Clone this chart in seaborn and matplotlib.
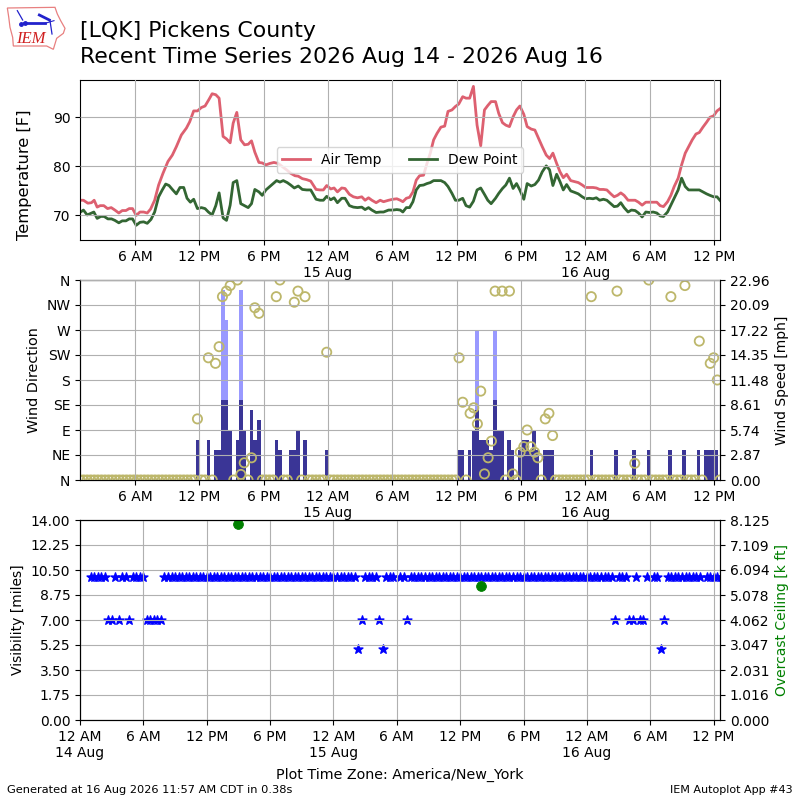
import numpy as np
import pandas as pd
import seaborn as sns
import matplotlib
matplotlib.use("Agg")
import matplotlib.pyplot as plt
import matplotlib.dates as mdates
from matplotlib.patches import Polygon
from matplotlib.ticker import FuncFormatter

# air temperature and dew point [F], hours counted from 14 Aug 00:00
air_hours = [
    0.86, 1.20, 1.61, 1.95, 2.20, 2.48, 2.76, 3.10, 3.45, 3.79, 4.13, 4.50, 4.82, 5.16, 5.47,
    5.78, 6.12, 6.47, 6.81, 7.15, 7.46, 7.84, 8.21, 8.62, 9.08, 9.49, 9.86, 10.33, 10.80, 11.11,
    11.48, 11.83, 12.20, 12.54, 12.92, 13.20, 13.54, 13.85, 14.22, 14.54, 14.88, 15.16, 15.50, 15.87, 16.22,
    16.56, 16.87, 17.18, 17.56, 17.87, 18.21, 18.58, 18.96, 19.36, 19.77, 20.14, 20.52, 20.92, 21.23, 21.61,
    22.01, 22.39, 22.89, 23.26, 23.57, 23.88, 24.26, 24.57, 24.88, 25.28, 25.59, 26.00, 26.37, 26.75, 27.15,
    27.46, 27.78, 28.09, 28.49, 28.87, 29.18, 29.65, 30.05, 30.42, 30.73,
    30.74, 30.98, 31.30, 31.61, 31.92, 32.23, 32.54, 32.91, 33.23, 33.54, 33.85, 34.16, 34.53, 34.88, 35.19,
    35.56, 35.88, 36.19, 36.56, 36.87, 37.21, 37.56, 37.90, 38.24, 38.59, 38.90, 39.21, 39.62, 39.92, 40.27,
    40.58, 40.92, 41.26, 41.58, 41.89, 42.26, 42.57, 42.95, 43.29, 43.63, 43.98, 44.35, 44.66, 44.97, 45.32,
    45.63, 45.94, 46.25, 46.63, 47.00, 47.34, 47.71, 48.02, 48.37, 48.71, 49.02, 49.33, 49.68, 50.00, 50.37,
    50.68, 50.99, 51.30, 51.61, 51.98, 52.29, 52.64, 52.95, 53.29, 53.63, 53.98, 54.32, 54.66, 54.97, 55.28,
    55.66, 55.97, 56.28, 56.65, 56.97, 57.31, 57.62, 57.96, 58.31, 58.62, 58.96, 59.30, 59.61, 59.96, 60.27,
    60.58,
]
air_temp = [
    73.1, 73.1, 72.5, 72.6, 73.1, 71.7, 72.0, 72.0, 71.4, 71.6, 71.1, 70.5, 71.0, 71.0, 71.4,
    71.4, 70.0, 70.7, 70.7, 70.5, 71.3, 73.1, 76.2, 78.6, 81.0, 82.3, 84.0, 86.4, 87.8, 89.1,
    91.3, 91.3, 92.0, 92.3, 93.7, 94.8, 94.6, 93.9, 86.1, 85.6, 84.8, 88.8, 91.0, 85.4, 84.4,
    84.5, 85.2, 82.9, 80.8, 80.7, 80.3, 80.6, 80.8, 80.6, 79.9, 79.3, 78.6, 78.1, 78.0, 77.5,
    77.3, 77.0, 75.3, 75.2, 75.2, 76.1, 75.4, 75.6, 74.8, 75.6, 75.5, 74.3, 73.8, 73.6, 73.8,
    73.1, 73.6, 73.1, 72.6, 73.1, 72.8, 73.1, 73.3, 73.4, 73.1,
    73.1, 72.8, 73.5, 73.7, 74.8, 77.2, 78.1, 78.2, 80.6, 82.7, 85.4, 86.7, 88.0, 88.2, 91.2,
    91.5, 92.2, 92.7, 94.2, 93.9, 93.9, 96.3, 88.4, 84.2, 91.5, 92.4, 93.2, 93.2, 90.8, 88.9,
    88.4, 88.1, 90.1, 91.5, 92.3, 90.6, 88.1, 87.6, 87.4, 85.7, 84.0, 82.3, 81.6, 82.7, 80.6,
    78.9, 77.7, 78.4, 77.1, 76.9, 76.7, 76.2, 75.7, 75.7, 75.7, 75.6, 75.3, 75.3, 75.2, 74.4,
    73.8, 74.1, 74.6, 74.1, 73.1, 73.1, 73.1, 72.7, 72.1, 72.7, 72.7, 72.7, 72.7, 72.0, 71.8,
    72.8, 74.1, 75.9, 77.6, 80.3, 82.7, 84.0, 85.4, 86.6, 86.9, 88.0, 89.0, 90.0, 90.3, 91.3,
    91.8,
]
dew_hours = [
    0.86, 1.20, 1.55, 1.86, 2.17, 2.48, 2.82, 3.13, 3.48, 3.82, 4.13, 4.50, 4.82, 5.16, 5.47,
    5.78, 6.12, 6.47, 6.81, 7.15, 7.50, 7.84, 8.21, 8.55, 8.87, 9.18, 9.49, 9.86, 10.20, 10.55,
    10.86, 11.17, 11.48, 11.83, 12.20, 12.54, 12.85, 13.20, 13.54, 13.85, 14.22, 14.54, 14.88, 15.16, 15.50,
    15.87, 16.22, 16.56, 16.87, 17.18, 17.56, 17.87, 18.21, 18.58, 18.90, 19.21, 19.52, 19.83, 20.20, 20.52,
    20.86, 21.23, 21.61, 22.01, 22.39, 22.89, 23.26, 23.57, 23.88, 24.26, 24.57, 24.88, 25.28, 25.59, 26.00,
    26.37, 26.75, 27.15, 27.46, 27.78, 28.09, 28.49, 28.87, 29.18, 29.65, 30.05, 30.42, 30.73,
    30.74, 30.98, 31.30, 31.61, 31.92, 32.23, 32.54, 32.91, 33.23, 33.54, 33.85, 34.16, 34.53, 34.88, 35.19,
    35.56, 35.88, 36.19, 36.56, 36.87, 37.21, 37.56, 37.90, 38.24, 38.59, 38.90, 39.21, 39.62, 39.92, 40.27,
    40.58, 40.92, 41.26, 41.58, 41.89, 42.26, 42.57, 42.95, 43.29, 43.63, 43.98, 44.35, 44.66, 44.97, 45.32,
    45.63, 45.94, 46.25, 46.63, 47.00, 47.34, 47.71, 48.02, 48.37, 48.71, 49.02, 49.33, 49.68, 50.00, 50.37,
    50.68, 50.99, 51.30, 51.61, 51.98, 52.29, 52.64, 52.95, 53.29, 53.63, 53.98, 54.32, 54.66, 54.97, 55.28,
    55.66, 55.97, 56.28, 56.65, 56.97, 57.31, 57.62, 57.96, 58.31, 58.62, 58.96, 59.30, 59.61, 59.96, 60.27,
    60.58,
]
dew_point = [
    70.6, 71.1, 70.1, 70.4, 70.7, 69.4, 69.8, 69.8, 69.3, 69.3, 69.0, 68.5, 68.9, 68.9, 69.3,
    69.3, 68.0, 68.6, 68.7, 68.4, 69.2, 70.7, 73.8, 75.2, 76.4, 76.1, 75.3, 74.4, 75.7, 75.7,
    73.5, 72.7, 73.3, 71.4, 71.6, 71.4, 70.7, 70.1, 72.0, 74.6, 69.5, 69.0, 72.1, 76.7, 77.1,
    72.4, 72.0, 71.6, 72.4, 75.3, 74.8, 74.1, 75.2, 75.9, 76.5, 77.1, 76.8, 77.1, 76.7, 76.2,
    75.6, 76.0, 75.3, 75.2, 75.2, 73.3, 73.1, 73.1, 73.9, 73.2, 73.6, 72.6, 73.5, 73.5, 72.0,
    71.7, 71.6, 71.7, 71.2, 71.6, 71.1, 70.6, 70.7, 70.7, 71.1, 71.1, 71.2, 71.1,
    71.1, 70.7, 71.6, 71.6, 72.8, 75.2, 76.1, 76.2, 76.5, 76.7, 77.1, 77.1, 77.1, 76.7, 75.9,
    74.5, 73.1, 73.1, 73.5, 72.0, 71.7, 72.9, 75.2, 75.6, 74.3, 73.1, 72.4, 73.5, 74.5, 75.5,
    76.2, 77.6, 75.5, 76.5, 75.2, 73.3, 76.5, 76.0, 76.3, 77.2, 78.9, 80.1, 79.3, 76.1, 78.4,
    76.9, 75.2, 76.3, 75.0, 74.7, 74.4, 73.8, 73.4, 73.5, 73.4, 73.6, 73.1, 73.3, 73.1, 72.4,
    71.8, 71.9, 72.6, 71.6, 70.7, 71.1, 71.0, 70.5, 69.7, 70.7, 70.6, 70.7, 70.5, 69.9, 69.8,
    70.7, 72.1, 73.5, 75.2, 77.6, 75.9, 75.2, 75.2, 75.2, 75.2, 74.8, 74.4, 74.1, 73.8, 73.8,
    73.0,
]

# wind
wind_hours = [
    11.88, 12.88, 13.55, 13.88, 14.21, 14.55, 14.88, 15.55, 15.88, 16.21, 16.88, 17.21, 17.55,
    19.21, 19.55, 20.55, 20.88, 21.21, 21.88, 23.88, 36.21, 36.55, 37.21, 37.55, 37.88, 38.21,
    38.55, 38.88, 39.21, 39.55, 39.88, 40.21, 40.88, 41.21, 41.88, 42.21, 42.55, 42.88, 43.21,
    43.55, 44.21, 44.55, 44.88, 48.55, 50.88, 52.55, 53.88, 55.88, 57.21, 58.55, 59.21, 59.55,
    59.88, 60.21,
]
wind_mph = [
    4.6, 4.6, 3.45, 3.45, 9.2, 9.2, 5.75, 4.6, 9.2, 5.75, 8.05, 4.6, 6.9,
    4.6, 3.45, 3.45, 3.45, 5.75, 4.6, 3.45, 3.45, 3.45, 3.45, 5.75, 8.05, 4.6,
    4.6, 4.6, 3.45, 9.2, 5.75, 5.75, 4.6, 3.45, 3.45, 4.6, 4.6, 3.45, 5.75,
    3.45, 3.45, 3.45, 3.45, 3.45, 3.45, 3.45, 3.45, 3.45, 3.45, 3.45, 3.45, 3.45,
    3.45, 3.45,
]
gust_hours = [14.21, 14.55, 15.88, 37.88, 39.55]
gust_mph = [21.85, 18.4, 21.85, 17.25, 17.25]

dir_hours = [
    11.83, 12.85, 13.51, 13.85, 14.16, 14.53, 14.88, 15.56, 15.88, 16.19, 16.87, 17.18, 17.56,
    19.18, 19.52, 20.86, 21.20, 21.86, 23.88, 36.22, 36.56, 37.25, 37.59, 37.93, 38.24, 38.59,
    38.93, 39.24, 39.58, 40.24, 40.92, 41.23, 41.92, 42.26, 42.57, 42.92, 43.26, 43.57, 44.26,
    44.60, 44.94, 48.55, 50.95, 52.60, 53.91, 55.97, 57.28, 58.62, 59.64, 59.96, 60.30,
]
dir_deg = [
    110, 220, 210, 240, 330, 340, 350, 360, 10, 31, 40, 310, 300,
    330, 360, 320, 340, 330, 230, 220, 140, 120, 130, 101, 160, 11,
    40, 70, 340, 340, 340, 11, 50, 60, 90, 60, 50, 40, 110,
    120, 80, 330, 340, 30, 360, 330, 350, 250, 210, 220, 180,
]

# visibility every 20 minutes [miles], nan where nothing was reported
vis_miles = [
    10, 10, 10, 10, 10, 7, 7, 10, 7, 10, 10, 7, 10, 10, 10, 10, 7, 7, 7, 7, 7,
    10, 10, 10, 10, 10, 10, 10, 10, 10, 10, 10, 10, 10, 10, 10, 10, 10, 10, 10, 10,
    10, 10, 10, 10, 10, 10, 10, 10, 10, 10, 10, 10, 10, 10, 10, 10, 10, 10, 10, 10,
    10, 10, 10, 10, 10, 10, 10, 10, 10, 10, 10, 10, 10, 10, 10,
    5, 7, 10, 10, 10, 10, 7, 5, 10, 10, 10, np.nan, 10, 10, 7,
    10, 10, 10, 10, 10, 10, 10, 10, 10, 10, 10, 10, 10, 10, 10, 10, 10, 10, 10, 10,
    10, 10, 10, 10, 10, 10, 10, 10, 10, 10, 10, 10, 10, 10, 10, 10, 10, 10, 10, 10,
    10, 10, 10, 10, 10, 10, 10, 10, 10, 10, 10, 10, 10, 10, 10, 10, 10, 10,
    7, 10, 10, 10, 7, 7, 10, 7, 7, 10, np.nan, 10, 10, 5, 7,
    10, 10, 10, 10, 10, 10, 10, 10, 10, 10, np.nan, 10, 10, 10, 10, 10,
]

ceiling_hours = [15.0, 38.0]
ceiling_kft = [7.97, 5.46]

direction_labels = ["N", "NE", "E", "SE", "S", "SW", "W", "NW", "N"]
speed_ticks = [0.00, 2.87, 5.74, 8.61, 11.48, 14.35, 17.22, 20.09, 22.96]
vis_ticks = [0.00, 1.75, 3.50, 5.25, 7.00, 8.75, 10.50, 12.25, 14.00]
ceil_ticks = [0.000, 1.016, 2.031, 3.047, 4.062, 5.078, 6.094, 7.109, 8.125]

base = pd.Timestamp("2026-08-14 00:00")


def to_time(hours):
    return base + pd.to_timedelta(np.asarray(hours, dtype=float), unit="h")


def obs_times(n, first_hour):
    return pd.date_range(to_time([first_hour])[0], periods=n, freq="20min")


def tick_label(x, pos):
    t = mdates.num2date(x)
    hour = t.hour % 12 or 12
    text = f"{hour} {'AM' if t.hour < 12 else 'PM'}"
    if t.hour == 0:
        text += "\n" + t.strftime("%d %b")
    return text


def time_axis(ax, start, end):
    ax.set_xlim(to_time([start])[0], to_time([end])[0])
    ax.xaxis.set_major_locator(mdates.HourLocator(byhour=[0, 6, 12, 18]))
    ax.xaxis.set_major_formatter(FuncFormatter(tick_label))
    ax.grid(True)
    ax.set_axisbelow(False)


fig = plt.figure(figsize=(8, 8), dpi=100)
ax1 = fig.add_axes([0.1, 0.7, 0.8, 0.2])
ax2 = fig.add_axes([0.1, 0.4, 0.8, 0.25])
ax3 = fig.add_axes([0.1, 0.1, 0.8, 0.25])

# temperature panel
sns.lineplot(x=to_time(air_hours), y=air_temp, ax=ax1, color="#dd6070", lw=2, label="Air Temp")
sns.lineplot(x=to_time(dew_hours), y=dew_point, ax=ax1, color="#336633", lw=2, label="Dew Point")
ax1.set_ylim(65, 97.6)
ax1.set_yticks([70, 80, 90])
ax1.set_ylabel("Temperature [F]", fontsize=11.7, loc="bottom", labelpad=15)
time_axis(ax1, 0.88, 60.55)
ax1.legend(loc="center", ncol=2)

# wind panel, bars on the twin axis and under the direction grid
ax2b = ax2.twinx()
ax2b.bar(to_time(gust_hours), gust_mph, width=1 / 72, color="#9999ff", zorder=2)
ax2b.bar(to_time(wind_hours), wind_mph, width=1 / 72, color="#3a3596", zorder=3)
ax2b.set_ylim(0, 22.96)
ax2b.set_yticks(speed_ticks)
ax2b.set_yticklabels([f"{v:.2f}" for v in speed_ticks])
ax2b.set_ylabel("Wind Speed [mph]")

grid_hours = 0.88 + np.arange(180) / 3
bar_hours = np.array(wind_hours)
calm_hours = [h for h in grid_hours if np.abs(bar_hours - h).min() > 0.1]

ax2.set_zorder(ax2b.get_zorder() + 1)
ax2.patch.set_visible(False)
sns.scatterplot(x=to_time(list(dir_hours) + calm_hours), y=list(dir_deg) + [0] * len(calm_hours),
                ax=ax2, s=44, facecolor="none", edgecolor="#bdb76b", linewidth=1.3, legend=False)
ax2.set_ylim(0, 360)
ax2.set_yticks(np.arange(0, 361, 45))
ax2.set_yticklabels(direction_labels)
ax2.set_ylabel("Wind Direction", fontsize=10.4)
time_axis(ax2, 0.88, 60.55)
ax2b.set_xlim(ax2.get_xlim())

# visibility and ceiling panel
sns.scatterplot(x=obs_times(len(vis_miles), 1.0), y=vis_miles, ax=ax3, marker="*", s=45, color="blue",
                edgecolor="blue", linewidth=1, legend=False)
ax3.set_ylim(0, 14)
ax3.set_yticks(vis_ticks)
ax3.set_yticklabels([f"{v:.2f}" for v in vis_ticks])
ax3.set_ylabel("Visibility [miles]")
time_axis(ax3, 0.0, 60.6)
ax3.set_xlabel("Plot Time Zone: America/New_York", fontsize=10.3, labelpad=6)

ax3b = ax3.twinx()
sns.scatterplot(x=to_time(ceiling_hours), y=ceiling_kft, ax=ax3b, s=50, color="green", edgecolor="green", legend=False)
ax3b.set_ylim(0, 8.125)
ax3b.set_yticks(ceil_ticks)
ax3b.set_yticklabels([f"{v:.3f}" for v in ceil_ticks])
ax3b.set_ylabel("Overcast Ceiling [k ft]", color="green")
ax3b.set_xlim(ax3.get_xlim())

ax1.set_xlabel("")
ax2.set_xlabel("")

# header and footer
fig.text(0.1, 1 - 31 / 800, "[LQK] Pickens County", fontsize=15.85, va="center", ha="left")
fig.text(0.1, 1 - 57 / 800, "Recent Time Series 2026 Aug 14 - 2026 Aug 16", fontsize=15.85, va="center", ha="left")
fig.text(0.009, 0.0065, "Generated at 16 Aug 2026 11:57 AM CDT in 0.38s", fontsize=8.2, va="bottom")
fig.text(0.991, 0.0065, "IEM Autoplot App #43", fontsize=8, va="bottom", ha="right")

# small state logo in the corner
logo = fig.add_axes([0, 0.9, 0.25, 0.1])
logo.set_xlim(0, 600)
logo.set_ylim(240, 0)
logo.axis("off")
logo.add_patch(Polygon([(22, 24), (165, 22), (172, 42), (182, 62), (195, 85), (190, 100), (170, 115),
                        (160, 148), (140, 138), (40, 138), (38, 112), (30, 82), (26, 50)],
                       closed=True, fill=False, edgecolor="#e88080", lw=0.9))
logo.plot([72, 135], [70, 70], color="#2222cc", lw=2)
logo.plot([135, 162], [70, 62], color="#2222cc", lw=0.8)
logo.plot([118, 148], [45, 60], color="#2222cc", lw=2)
logo.plot([52, 68], [32, 60], color="#2222cc", lw=0.9)
logo.plot([150, 156], [62, 102], color="#2222cc", lw=0.9)
logo.plot([62, 74], [72, 70], "o", color="#2222cc", ms=2.5)
logo.text(92, 116, "IEM", color="#d02020", fontsize=12, family="Liberation Serif", style="italic", ha="center", va="center")

fig.savefig("out.png", dpi=100)
